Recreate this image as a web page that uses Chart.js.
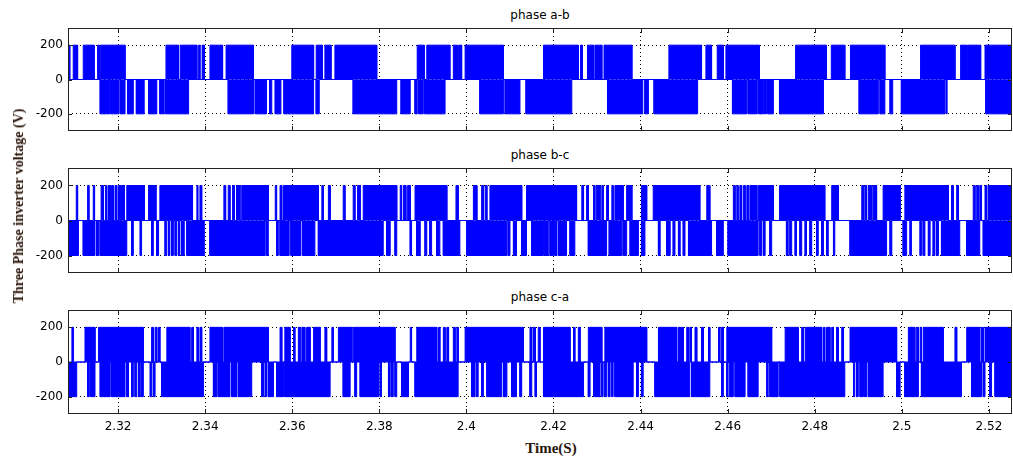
<!DOCTYPE html>
<html lang="en">
<head>
    <meta charset="UTF-8">
    <title>Three Phase inverter voltage</title>
    <script src="https://cdn.jsdelivr.net/npm/chart.js"></script>
    <style>
        body { margin: 0; background: #fff; }
        #wrap { position: relative; width: 1013px; height: 463px; overflow: hidden; }
        #wrap canvas { position: absolute; left: 0; }
        .ptitle {
            position: absolute; left: 68px; width: 944px; text-align: center;
            font: 12px "DejaVu Sans", sans-serif; line-height: 14px; color: #000;
        }
        .axlabel { position: absolute; font: bold 15px "Liberation Serif", serif; color: #2b160a; white-space: nowrap; line-height: 18px; }
        #ylab { left: 19px; top: 206px; font-size: 14px; transform: translate(-50%, -50%) rotate(-90deg); }
        #xlab { left: 451px; width: 200px; top: 439px; text-align: center; }
    </style>
</head>
<body>
<div id="wrap">
    <div class="ptitle" style="top:8px">phase a-b</div>
    <div class="ptitle" style="top:148px">phase b-c</div>
    <div class="ptitle" style="top:290px">phase c-a</div>
    <canvas id="ab" width="1013" height="111" style="top:24px"></canvas>
    <canvas id="bc" width="1013" height="113" style="top:164px"></canvas>
    <canvas id="ca" width="1013" height="132" style="top:306px"></canvas>
    <div id="ylab" class="axlabel">Three Phase inverter voltage (V)</div>
    <div id="xlab" class="axlabel">Time(S)</div>
</div>

<script>
    // axis range and ticks
    const X_MIN = 2.3085, X_MAX = 2.5253;
    const xTicks = [2.32, 2.34, 2.36, 2.38, 2.40, 2.42, 2.44, 2.46, 2.48, 2.50, 2.52];
    const xTickLabels = ['2.32', '2.34', '2.36', '2.38', '2.4', '2.42', '2.44', '2.46', '2.48', '2.5', '2.52'];
    const yTicks = [-200, 0, 200];
    const yTickLabels = ['-200', '0', '200'];
    const V_HIGH = 200;

    // switching intervals [start, end] in seconds
    const abPos = [
        [2.3086,2.3089],[2.3097,2.3107],[2.3120,2.3145],[2.3153,2.3157],[2.3159,2.3216],
        [2.3310,2.3339],[2.3343,2.3381],[2.3385,2.3388],[2.3393,2.3398],
        [2.3411,2.3440],[2.3448,2.3511],
        [2.3599,2.3649],[2.3655,2.3669],[2.3675,2.3689],[2.3698,2.3794],
        [2.3887,2.3903],[2.3909,2.3962],[2.3970,2.3979],[2.3982,2.3989],[2.3997,2.4085],
        [2.4177,2.4257],[2.4262,2.4266],[2.4278,2.4292],[2.4295,2.4311],[2.4316,2.4380],
        [2.4465,2.4540],[2.4550,2.4563],[2.4576,2.4590],[2.4596,2.4673],
        [2.4756,2.4827],[2.4838,2.4869],[2.4882,2.4961],
        [2.5043,2.5122],[2.5135,2.5149],[2.5151,2.5181],[2.5191,2.5253]
    ];
    const abNeg = [
        [2.3159,2.3180],[2.3182,2.3202],[2.3205,2.3216],[2.3222,2.3235],[2.3242,2.3260],[2.3270,2.3289],[2.3296,2.3306],[2.3309,2.3362],
        [2.3453,2.3494],[2.3496,2.3511],[2.3515,2.3541],[2.3548,2.3553],[2.3561,2.3574],[2.3581,2.3649],[2.3655,2.3662],
        [2.3740,2.3840],[2.3850,2.3871],[2.3882,2.3887],[2.3890,2.3901],[2.3904,2.3951],
        [2.4031,2.4085],[2.4089,2.4123],[2.4137,2.4242],
        [2.4324,2.4405],[2.4410,2.4418],[2.4431,2.4525],[2.4527,2.4531],
        [2.4611,2.4644],[2.4647,2.4668],[2.4671,2.4683],[2.4685,2.4689],[2.4692,2.4705],[2.4719,2.4820],
        [2.4902,2.4946],[2.4950,2.4961],[2.4973,2.4979],[2.4999,2.5099],[2.5102,2.5104],[2.5193,2.5253]
    ];
    const bcPos = [
        [2.3104,2.3107],[2.3130,2.3133],[2.3143,2.3146],[2.3161,2.3166],[2.3171,2.3174],[2.3178,2.3182],[2.3185,2.3189],[2.3193,2.3197],
        [2.3201,2.3205],[2.3208,2.3214],[2.3220,2.3260],[2.3270,2.3287],[2.3296,2.3371],[2.3381,2.3383],[2.3388,2.3392],
        [2.3443,2.3447],[2.3453,2.3457],[2.3463,2.3467],[2.3472,2.3480],[2.3484,2.3545],[2.3561,2.3564],[2.3572,2.3576],[2.3580,2.3660],
        [2.3668,2.3671],[2.3683,2.3687],
        [2.3717,2.3721],[2.3740,2.3744],[2.3750,2.3756],[2.3763,2.3840],[2.3848,2.3851],[2.3855,2.3861],[2.3865,2.3871],[2.3882,2.3955],[2.3976,2.3981],
        [2.4016,2.4024],[2.4035,2.4039],[2.4043,2.4047],[2.4054,2.4127],[2.4138,2.4253],[2.4265,2.4269],[2.4276,2.4280],[2.4292,2.4295],
        [2.4299,2.4307],[2.4311,2.4314],[2.4322,2.4326],[2.4334,2.4337],[2.4341,2.4360],[2.4368,2.4380],[2.4402,2.4414],[2.4429,2.4536],
        [2.4552,2.4559],[2.4613,2.4617],[2.4621,2.4624],[2.4628,2.4632],[2.4636,2.4640],[2.4644,2.4647],[2.4651,2.4667],[2.4670,2.4705],
        [2.4719,2.4823],[2.4839,2.4854],
        [2.4908,2.4912],[2.4915,2.4919],[2.4923,2.4931],[2.4934,2.4942],[2.4957,2.4996],[2.5007,2.5107],[2.5114,2.5118],[2.5126,2.5130],
        [2.5164,2.5168],[2.5172,2.5176],[2.5179,2.5183],[2.5191,2.5195],[2.5199,2.5253]
    ];
    const bcNeg = [
        [2.3086,2.3109],[2.3120,2.3147],[2.3151,2.3156],[2.3159,2.3220],[2.3231,2.3235],[2.3251,2.3254],[2.3277,2.3281],[2.3289,2.3293],
        [2.3308,2.3312],[2.3316,2.3319],[2.3323,2.3327],[2.3331,2.3335],[2.3339,2.3342],[2.3346,2.3352],[2.3358,2.3398],
        [2.3411,2.3538],[2.3541,2.3545],[2.3564,2.3568],[2.3572,2.3593],[2.3597,2.3620],[2.3624,2.3652],[2.3660,2.3809],
        [2.3817,2.3825],[2.3836,2.3840],[2.3871,2.3874],[2.3886,2.3894],[2.3905,2.3909],[2.3916,2.3920],[2.3932,2.3939],[2.3947,2.3985],
        [2.4001,2.4093],[2.4096,2.4100],[2.4108,2.4115],[2.4127,2.4138],[2.4150,2.4177],[2.4180,2.4188],[2.4192,2.4200],[2.4203,2.4207],
        [2.4211,2.4223],[2.4226,2.4230],[2.4238,2.4249],
        [2.4280,2.4322],[2.4328,2.4357],[2.4360,2.4368],[2.4376,2.4395],[2.4402,2.4410],[2.4441,2.4445],[2.4460,2.4468],
        [2.4475,2.4479],[2.4487,2.4491],[2.4498,2.4502],[2.4510,2.4563],[2.4575,2.4590],[2.4601,2.4670],[2.4674,2.4678],[2.4682,2.4686],[2.4697,2.4701],
        [2.4735,2.4739],[2.4743,2.4747],[2.4755,2.4758],[2.4766,2.4770],[2.4778,2.4781],[2.4789,2.4793],[2.4804,2.4808],[2.4816,2.4820],
        [2.4827,2.4831],[2.4843,2.4846],
        [2.4881,2.4965],[2.4973,2.4977],[2.5003,2.5011],[2.5019,2.5022],[2.5042,2.5045],[2.5049,2.5053],[2.5061,2.5065],[2.5072,2.5076],
        [2.5080,2.5084],[2.5091,2.5133],[2.5149,2.5179],[2.5187,2.5253]
    ];
    const caPos = [
        [2.3094,2.3097],[2.3124,2.3147],[2.3155,2.3258],[2.3277,2.3281],[2.3285,2.3289],[2.3293,2.3296],[2.3312,2.3365],[2.3369,2.3373],
        [2.3381,2.3384],[2.3388,2.3392],
        [2.3411,2.3440],[2.3443,2.3545],[2.3572,2.3576],[2.3583,2.3595],[2.3603,2.3606],[2.3614,2.3618],[2.3622,2.3629],[2.3633,2.3641],
        [2.3649,2.3664],[2.3675,2.3679],[2.3691,2.3694],
        [2.3706,2.3737],[2.3740,2.3836],[2.3871,2.3874],[2.3886,2.3932],[2.3936,2.3939],[2.3947,2.3951],[2.3955,2.3959],[2.3970,2.3974],[2.3978,2.3981],
        [2.3997,2.4131],[2.4146,2.4150],[2.4154,2.4158],[2.4165,2.4169],[2.4177,2.4238],[2.4246,2.4249],[2.4257,2.4261],[2.4280,2.4311],
        [2.4318,2.4414],[2.4441,2.4483],
        [2.4487,2.4491],[2.4494,2.4498],[2.4506,2.4510],[2.4513,2.4517],[2.4525,2.4529],[2.4540,2.4544],[2.4556,2.4559],[2.4579,2.4582],
        [2.4586,2.4590],[2.4598,2.4701],
        [2.4732,2.4762],[2.4770,2.4774],[2.4778,2.4816],[2.4820,2.4823],[2.4827,2.4835],[2.4839,2.4843],[2.4850,2.4854],[2.4862,2.4866],[2.4881,2.4988],
        [2.5015,2.5030],[2.5034,2.5038],[2.5042,2.5045],[2.5049,2.5095],[2.5122,2.5126],[2.5149,2.5179],[2.5183,2.5187],[2.5191,2.5253]
    ];
    const caNeg = [
        [2.3086,2.3105],[2.3130,2.3134],[2.3137,2.3147],[2.3159,2.3182],[2.3185,2.3216],[2.3220,2.3224],[2.3231,2.3235],[2.3239,2.3243],
        [2.3247,2.3251],[2.3254,2.3258],[2.3274,2.3277],[2.3281,2.3285],[2.3300,2.3396],
        [2.3419,2.3427],[2.3430,2.3457],[2.3461,2.3472],[2.3476,2.3507],[2.3530,2.3534],[2.3538,2.3541],[2.3545,2.3557],[2.3564,2.3580],[2.3583,2.3687],
        [2.3717,2.3733],[2.3744,2.3748],[2.3756,2.3798],[2.3802,2.3805],[2.3821,2.3825],[2.3828,2.3832],[2.3836,2.3840],[2.3851,2.3867],[2.3882,2.3981],
        [2.4012,2.4020],[2.4024,2.4027],[2.4035,2.4039],[2.4047,2.4081],[2.4085,2.4093],[2.4104,2.4115],[2.4123,2.4127],[2.4146,2.4150],
        [2.4158,2.4161],[2.4177,2.4269],
        [2.4280,2.4284],[2.4292,2.4307],[2.4311,2.4314],[2.4318,2.4322],[2.4326,2.4330],[2.4334,2.4337],[2.4341,2.4383],[2.4391,2.4395],
        [2.4402,2.4406],[2.4433,2.4513],
        [2.4517,2.4559],[2.4586,2.4590],[2.4598,2.4601],[2.4605,2.4613],[2.4617,2.4640],[2.4647,2.4670],[2.4690,2.4693],[2.4697,2.4716],[2.4720,2.4869],
        [2.4889,2.4892],[2.4896,2.4900],[2.4904,2.4912],[2.4915,2.4919],[2.4923,2.4957],[2.4988,2.4996],[2.5007,2.5038],[2.5045,2.5137],
        [2.5160,2.5183],[2.5187,2.5191],[2.5202,2.5206],[2.5214,2.5253]
    ];

    const BLUE = '#0000ff';
    const tickFont = {family: 'DejaVu Sans', size: 12};

    // turn [start, end] intervals into a stepped trace held at `level`
    function blockPoints(blocks, level) {
        const pts = [{x: X_MIN, y: 0}];
        blocks.forEach(([a, b]) => {
            pts.push({x: a, y: 0}, {x: a, y: level}, {x: b, y: level}, {x: b, y: 0});
        });
        pts.push({x: X_MAX, y: 0});
        return pts;
    }

    // matlab style box with inward ticks
    const boxPlugin = {
        id: 'box',
        afterDraw(chart) {
            const {ctx, chartArea: a, scales: {x, y}} = chart;
            ctx.save();
            ctx.strokeStyle = '#222';
            ctx.lineWidth = 1;
            ctx.strokeRect(a.left + 0.5, a.top + 0.5, a.right - a.left - 1, a.bottom - a.top - 1);
            ctx.beginPath();
            x.ticks.forEach(t => {
                const px = Math.round(x.getPixelForValue(t.value)) + 0.5;
                ctx.moveTo(px, a.top); ctx.lineTo(px, a.top + 5);
                ctx.moveTo(px, a.bottom); ctx.lineTo(px, a.bottom - 5);
            });
            y.ticks.forEach(t => {
                const py = Math.round(y.getPixelForValue(t.value)) + 0.5;
                ctx.moveTo(a.left, py); ctx.lineTo(a.left + 4, py);
                ctx.moveTo(a.right, py); ctx.lineTo(a.right - 4, py);
            });
            ctx.stroke();
            ctx.restore();
        }
    };

    // no label overhang padding, so the plot box sits exactly where the canvas says
    function noOverhang(s) {
        s.paddingTop = 0; s.paddingBottom = 0; s.paddingLeft = 0; s.paddingRight = 0;
    }

    function makePanel(id, pos, neg, showX) {
        const trace = {borderColor: BLUE, backgroundColor: BLUE, borderWidth: 1, fill: 'origin', pointRadius: 0, tension: 0};
        return new Chart(document.getElementById(id), {
            type: 'line',
            data: {
                datasets: [
                    Object.assign({data: blockPoints(pos, V_HIGH)}, trace),
                    Object.assign({data: blockPoints(neg, -V_HIGH)}, trace)
                ]
            },
            options: {
                responsive: false,
                animation: false,
                events: [],
                layout: {padding: {top: 4, right: 1, left: 0, bottom: 0}},
                plugins: {legend: {display: false}, tooltip: {enabled: false}},
                scales: {
                    x: {
                        type: 'linear', min: X_MIN, max: X_MAX,
                        afterBuildTicks: s => { s.ticks = xTicks.map(v => ({value: v})); },
                        afterFit: s => { s.height = showX ? 24 : 4; noOverhang(s); },
                        ticks: {display: showX, font: tickFont, color: '#000', padding: 6, maxRotation: 0, autoSkip: false,
                                callback: (v, i) => xTickLabels[i]},
                        grid: {color: '#000', drawTicks: false},
                        border: {display: false, dash: [1, 3]}
                    },
                    y: {
                        min: -300, max: 300,
                        afterBuildTicks: s => { s.ticks = yTicks.map(v => ({value: v})); },
                        afterFit: s => { s.width = 68; noOverhang(s); },
                        ticks: {font: tickFont, color: '#000', padding: 5, callback: (v, i) => yTickLabels[i]},
                        grid: {color: '#000', drawTicks: false},
                        border: {display: false, dash: [1, 3]}
                    }
                }
            },
            plugins: [boxPlugin]
        });
    }

    makePanel('ab', abPos, abNeg, false);
    makePanel('bc', bcPos, bcNeg, false);
    makePanel('ca', caPos, caNeg, true);
</script>
</body>
</html>
